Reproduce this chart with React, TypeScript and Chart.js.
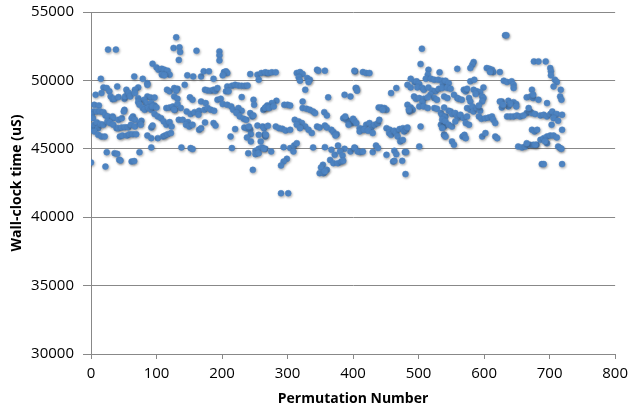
import React, { useEffect, useRef } from "react";
import { Chart, registerables } from "chart.js";
Chart.register(...registerables);

// Permutation number (x) of each plotted point
const permutation: number[] = [
  0,22,26,38,15,24,36,40,43,45,62,66,74,92,126,134,
  94,100,103,108,112,117,120,108,112,
  66,79,86,86,72,67,54,56,40,19,24,28,7,16,
  30,33,36,42,51,52,58,60,67,72,74,86,91,97,81,84,92,97,
  116,120,127,5,4,12,72,74,79,82,88,92,94,100,115,120,125,128,
  1,3,9,14,19,22,26,33,34,42,47,51,50,64,62,67,77,74,97,102,107,111,115,120,123,
  2,5,9,11,15,19,25,29,34,39,42,47,52,57,61,67,76,92,94,
  5,11,16,21,44,48,55,59,64,69,102,110,113,117,122,86,92,
  130,135,136,161,196,196,196,
  147,156,168,172,180,187,203,206,208,201,243,254,260,268,256,
  132,130,143,174,178,183,187,190,193,208,215,220,225,230,235,239,206,210,
  127,132,151,155,168,175,193,198,201,208,230,248,249,214,217,
  132,137,146,152,158,165,164,173,178,183,188,127,225,230,222,227,233,237,243,246,248,263,266,269,
  134,140,148,145,150,155,165,168,174,187,190,220,234,238,243,244,241,254,262,264,265,266,213,238,244,256,259,
  138,152,155,215,240,251,256,261,266,247,251,256,
  266,271,276,282,314,319,323,317,319,330,334,332,345,347,357,403,
  327,404,362,387,396,
  283,276,270,266,272,279,295,300,304,323,323,329,334,339,342,356,360,
  385,390,395,398,393,388,
  270,282,287,292,297,304,311,317,322,327,332,337,314,319,345,349,357,360,367,370,375,373,267,
  264,275,294,304,310,314,309,339,357,367,377,387,396,403,372,380,384,
  299,294,290,365,370,377,382,385,354,351,349,355,360,357,290,301,
  402,415,420,425,505,503,515,514,532,
  488,494,497,501,511,519,524,530,536,537,
  405,406,466,458,483,488,
  498,506,508,515,521,526,531,536,518,524,528,
  493,496,501,508,506,514,539,
  483,488,491,486,485,
  501,508,514,524,528,534,536,541,
  439,443,448,451,445,
  400,402,405,503,534,539,
  410,415,420,425,428,433,438,440,
  410,417,423,430,
  451,456,455,458,463,466,471,476,478,481,483,468,472,476,539,
  402,407,411,415,430,435,438,
  451,463,466,479,481,501,
  461,463,475,480,
  632,634,584,582,579,559,604,608,612,614,609,624,676,
  541,546,579,585,630,635,642,645,645,599,673,
  544,549,569,572,574,584,589,594,587,
  544,554,559,561,566,577,579,597,599,597,
  627,637,645,649,665,671,675,
  539,546,549,551,556,559,561,564,
  574,579,582,584,589,594,592,
  637,640,649,665,670,673,
  536,541,546,551,556,569,574,572,577,
  592,596,602,607,612,614,617,
  635,640,645,650,655,660,
  624,627,629,668,
  539,541,536,551,554,567,570,572,597,602,617,620,673,677,
  652,658,663,670,675,680,665,
  683,694,701,702,702,708,711,706,675,717,716,718,683,696,
  678,686,691,696,701,704,708,711,719,706,
  703,713,681,719,
  686,691,696,701,706,711,696,693,
  678,713,716,718,
  688,691,719
];

// Wall-clock time (uS) of each plotted point
const wallTime: number[] = [
  44000,43700,52250,52250,50120,44750,44680,44630,44200,44150,44070,44100,44750,45100,52370,51500,
  51220,50950,50780,50850,50780,50710,50420,50420,50370,
  50290,50120,49800,49680,49490,49320,49320,49070,49560,49490,49440,49200,48950,49070,
  48830,48630,48660,48780,48660,48830,49070,48830,49070,48700,48510,48830,48750,48750,48580,48340,48340,48170,
  49320,49200,49440,48220,47730,48170,48410,48220,47980,47850,47980,47850,48100,48020,47980,48020,48100,47850,
  47490,47240,47730,47730,47680,47440,47370,47370,47240,47120,47240,47850,47730,47370,47240,47120,47050,46880,47540,47370,47240,47000,46760,46950,46630,
  46510,46760,46930,46510,46800,46760,47000,46880,46760,46510,46510,46560,46580,46580,46760,46630,46760,46560,46700,
  46270,46020,45900,45900,45900,45970,45970,46070,46070,46070,45780,45900,45970,46070,46150,45970,45780,
  53150,52420,52070,52170,52120,51830,51460,
  50370,50290,50290,50660,50660,50120,50610,50660,50540,50370,50460,50420,50540,50540,50050,
  49390,49250,49680,49320,49270,49250,49320,49250,49440,49560,49610,49680,49630,49610,49610,49630,49200,49200,
  48830,48660,48760,48590,48460,48340,48590,48660,48270,48220,48780,48590,48220,48100,47850,
  48270,47980,47730,47540,47680,47780,47490,47850,47980,47850,47780,47850,47980,47780,47610,47370,47200,47120,47610,47370,47440,47850,48020,48170,
  47120,47120,46950,46760,46630,46760,46390,46510,46930,46880,46700,46440,46560,46510,46390,46070,46630,46700,46630,46510,46070,45900,45900,45830,45540,46020,45540,
  45100,45050,44980,45050,44680,44850,45000,45100,45000,43460,44610,44680,
  50590,50540,50590,50590,50540,50610,50460,50220,49980,50170,50050,49880,50780,50710,50710,50660,
  49320,49440,48760,48950,48830,
  48510,48340,48100,47980,47980,48100,48220,48220,48170,48460,47980,47930,47850,47730,47610,47680,47440,
  47240,47120,47000,46880,46760,47370,
  46680,46630,46510,46460,46340,46390,47120,47000,46880,46630,46390,46150,46760,46510,46630,46560,46700,46560,46390,46220,46070,45970,46020,
  45000,44800,45120,45050,45240,45410,44800,45100,45120,44930,45240,45000,44800,45050,44560,44800,44510,
  44270,44070,43780,44190,43950,43950,44070,44120,43830,43630,43220,43220,43460,43340,41750,41750,
  50710,50610,50540,50540,52320,51200,50780,50420,50590,
  50120,49880,49930,49730,50120,50120,50050,50050,49980,49730,
  49440,49250,49440,49070,49680,49490,
  49490,49440,49320,49490,49250,49200,49390,49440,48950,48710,48590,
  48830,48660,48710,48660,48410,48760,48830,
  48220,48020,47850,47730,47850,
  48100,48100,47980,47980,47930,47610,47440,47370,
  48020,48020,47980,47850,47850,
  47200,47050,46880,46630,46760,46630,
  46510,46460,46760,46880,46560,46760,46880,47120,
  46270,46390,46320,46150,
  46510,46390,46150,46020,46320,46150,46440,46510,46270,46390,46560,45900,45540,45650,46020,
  45100,44800,44760,44800,44760,45240,45050,
  44560,44850,44610,44760,44760,45170,
  44070,44120,44120,43150,
  53300,53300,51340,51150,50900,50850,50900,50850,50780,50610,50610,50610,51390,
  49980,49800,49930,50050,49980,49880,49930,49680,49440,49490,49320,
  49440,49390,49320,49200,49390,49320,49200,49150,49000,
  48710,48950,48710,48660,48590,48710,48460,48830,48710,48460,
  48460,48510,48410,48270,48760,48830,48710,
  48020,47780,47730,47540,47610,47370,47290,47490,
  47980,47850,48100,47730,47980,47780,48170,
  48100,48270,48100,47610,47730,47610,
  47120,47000,46760,46630,47000,47240,47370,46880,46760,
  47370,47190,47240,47290,47370,47120,46880,
  47370,47370,47370,47440,47370,47440,
  48460,48020,48220,47980,
  46020,45900,46510,45540,45290,45900,46020,45780,45900,46150,45900,45780,46390,46270,
  45170,45100,45170,45290,45290,45290,45410,
  51390,51390,50900,50660,50370,50050,49880,49560,48950,49320,48830,48590,48590,48340,
  47540,47440,47490,47370,47540,47730,47440,47540,47490,47240,
  46760,47050,46390,46390,
  45660,45780,45900,45970,45970,45830,45410,45540,
  45290,45170,45050,45000,
  43880,43880,43880
];

const xMin = 0;
const xMax = 800;
const xStep = 100;
const yMin = 30000;
const yMax = 55000;
const yStep = 5000;

const FONT = "'Open Sans', 'Liberation Sans', sans-serif";

export default function App() {
  const ref = useRef<HTMLCanvasElement>(null);
  useEffect(() => {
    document.body.style.margin = "0";
    const shadow = {
      id: "pointShadow",
      beforeDatasetsDraw(c: any) {
        const ctx = c.ctx;
        ctx.save();
        ctx.shadowColor = "rgba(40,40,40,0.35)";
        ctx.shadowBlur = 2.5;
        ctx.shadowOffsetX = 0.8;
        ctx.shadowOffsetY = 1.2;
      },
      afterDatasetsDraw(c: any) {
        c.ctx.restore();
      },
    };
    const chart = new Chart(ref.current!, {
      type: "scatter",
      data: {
        datasets: [
          {
            data: permutation.map((x, i) => ({ x, y: wallTime[i] })),
            backgroundColor: "#5088C8",
            borderColor: "#4A80C0",
            borderWidth: 0.5,
            pointRadius: 3,
          },
        ],
      },
      options: {
        responsive: false,
        animation: false,
        layout: { padding: { left: 0, right: 15, top: 12, bottom: 0 } },
        plugins: { legend: { display: false }, tooltip: { enabled: false } },
        scales: {
          x: {
            type: "linear",
            min: xMin,
            max: xMax,
            ticks: {
              stepSize: xStep,
              color: "#000",
              font: { family: FONT, size: 15 },
              padding: 6,
              callback: (v: any) => String(v),
            },
            grid: { drawOnChartArea: false, color: "#888", tickLength: 5 },
            border: { color: "#888" },
            title: {
              display: true,
              text: "Permutation Number",
              color: "#000",
              font: { family: FONT, size: 14, weight: "bold" },
              padding: { top: 0, bottom: 9 },
            },
            afterFit(s: any) { s.height = 62; },
          },
          y: {
            min: yMin,
            max: yMax,
            ticks: {
              stepSize: yStep,
              color: "#000",
              font: { family: FONT, size: 15, lineHeight: 0.4 },
              padding: 9,
              callback: (v: any) => String(v),
            },
            grid: { color: "#888", tickLength: 8 },
            border: { color: "#888" },
            title: {
              display: true,
              text: "Wall-clock time (uS)",
              color: "#000",
              font: { family: FONT, size: 14, weight: "bold" },
              padding: { top: 9, bottom: 0 },
            },
            afterFit(s: any) { s.width = 91; },
          },
        },
      },
      plugins: [shadow],
    });
    return () => chart.destroy();
  }, []);
  return <canvas ref={ref} width={634} height={416} style={{ display: "block" }} />;
}
